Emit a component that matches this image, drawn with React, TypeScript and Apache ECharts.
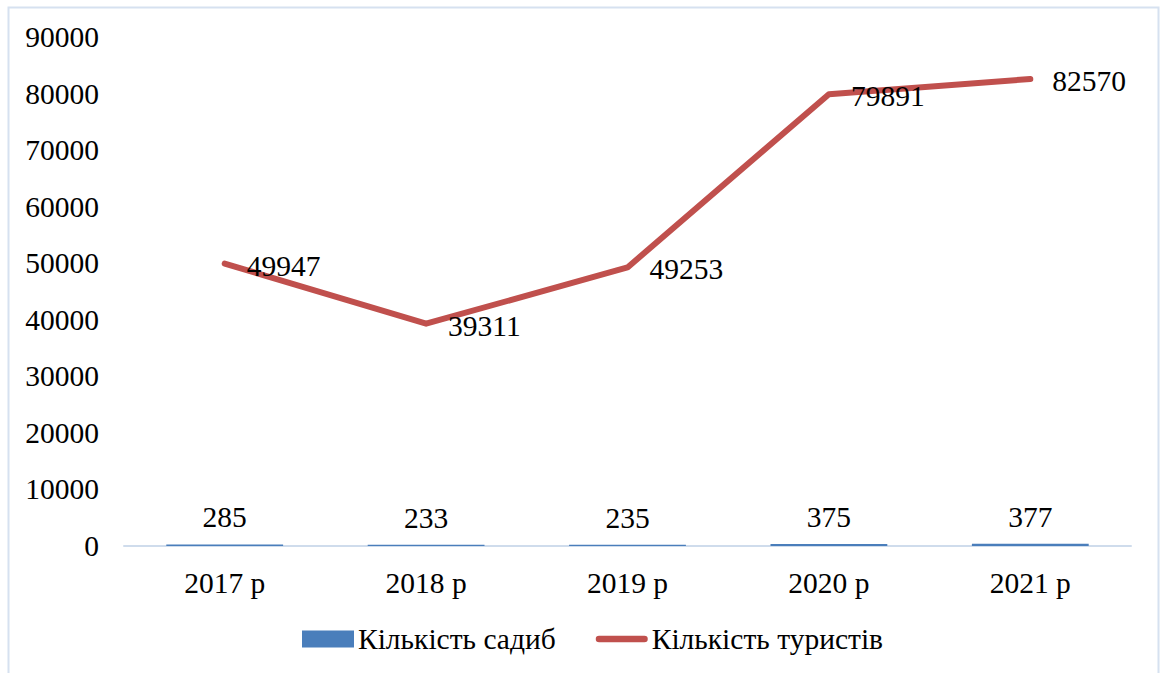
import React, { useEffect, useRef } from "react";
import * as echarts from "echarts";

const categories = ["2017 р", "2018 р", "2019 р", "2020 р", "2021 р"];
const homesteads = [285, 233, 235, 375, 377];
const tourists = [49947, 39311, 49253, 79891, 82570];
const seriesNames = ["Кількість садиб", "Кількість туристів"];

const FONT = "Liberation Serif";
const FS = 29.5;

export default function App() {
  const ref = useRef<HTMLDivElement>(null);
  useEffect(() => {
    if (!ref.current) return;
    const chart = echarts.init(ref.current, undefined, { renderer: "svg" });
    chart.setOption({
      animation: false,
      backgroundColor: "#ffffff",
      textStyle: { fontFamily: FONT },
      graphic: [
        {
          type: "rect",
          shape: { x: 8.5, y: 7.5, width: 1150, height: 680 },
          style: { fill: "none", stroke: "#d6e1f0", lineWidth: 2 },
          silent: true,
        },
      ],
      grid: { left: 124, right: 29, top: 37, bottom: 127, containLabel: false },
      legend: {
        bottom: 14,
        left: 297,
        itemWidth: 52,
        itemHeight: 17,
        itemGap: 40,
        textStyle: { fontFamily: FONT, fontSize: FS, color: "#000", padding: [0, 0, 0, -1] },
        data: [
          { name: seriesNames[0], icon: "rect" },
          {
            name: seriesNames[1],
            icon: "path://M0,0 M55,17 M3.5,5 L51.5,5 A3.5,3.5 0 0 1 51.5,12 L3.5,12 A3.5,3.5 0 0 1 3.5,5 Z",
            itemStyle: { color: "#c0504d", borderWidth: 0 },
          },
        ],
      },
      xAxis: {
        type: "category",
        data: categories,
        axisLine: { lineStyle: { color: "#cfdcec", width: 2 } },
        axisTick: { show: false },
        axisLabel: { fontFamily: FONT, fontSize: FS, color: "#000", margin: 22 },
      },
      yAxis: {
        type: "value",
        min: 0,
        max: 90000,
        interval: 10000,
        axisLine: { show: false },
        axisTick: { show: false },
        splitLine: { show: false },
        axisLabel: {
          fontFamily: FONT,
          fontSize: FS,
          color: "#000",
          margin: 25,
          formatter: (v: number) => String(v),
        },
      },
      series: [
        {
          name: seriesNames[0],
          type: "bar",
          data: homesteads,
          barWidth: "58%",
          itemStyle: { color: "#4a7ebb" },
          label: {
            show: true,
            position: "top",
            distance: 12,
            fontFamily: FONT,
            fontSize: FS,
            color: "#000",
          },
        },
        {
          name: seriesNames[1],
          type: "line",
          data: tourists,
          symbol: "circle",
          symbolSize: 0,
          showSymbol: true,
          lineStyle: { color: "#c0504d", width: 6, cap: "round", join: "round" },
          itemStyle: { color: "#c0504d" },
          label: {
            show: true,
            position: "right",
            distance: 22,
            offset: [0, 2],
            fontFamily: FONT,
            fontSize: FS,
            color: "#000",
            formatter: (p: any) => String(p.value),
          },
        },
      ],
    });
    return () => chart.dispose();
  }, []);
  return (
    <div
      ref={ref}
      style={{ position: "fixed", left: 0, top: 0, width: 1160, height: 673 }}
    />
  );
}
